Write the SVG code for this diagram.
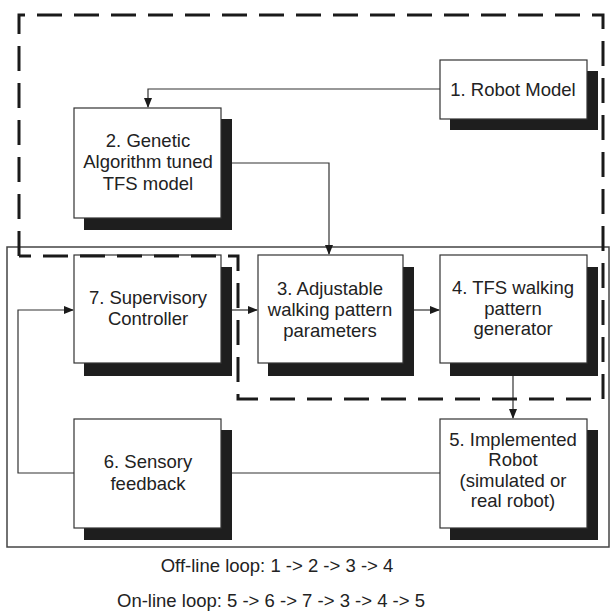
<svg xmlns="http://www.w3.org/2000/svg" width="610" height="612" viewBox="0 0 610 612">
<style>
.box{fill:#fff;stroke:#333;stroke-width:1.2}
.sh{fill:#1e1e1e}
.t{font-family:"Liberation Sans",Arial,sans-serif;font-size:18.5px;fill:#222;text-anchor:middle}
.c{fill:none;stroke:#333;stroke-width:1.2}
.dash{fill:none;stroke:#1a1a1a;stroke-width:3;stroke-dasharray:25 12}
.frame{fill:none;stroke:#444;stroke-width:1.5}
</style>
<defs>
<marker id="ah" markerWidth="10" markerHeight="8" refX="9" refY="4" orient="auto" markerUnits="userSpaceOnUse">
<path d="M0,0 L10,4 L0,8 Z" fill="#1a1a1a"/>
</marker>
</defs>
<rect class="frame" x="7" y="247" width="602" height="300"/>
<g id="connectors">
<polyline class="c" points="440,89 148,89 148,107" marker-end="url(#ah)"/>
<polyline class="c" points="232,163 329,163 329,254" marker-end="url(#ah)"/>
<line class="c" x1="232" y1="310" x2="257" y2="310" marker-end="url(#ah)"/>
<line class="c" x1="414" y1="310" x2="439" y2="310" marker-end="url(#ah)"/>
<line class="c" x1="513" y1="376" x2="513" y2="418" marker-end="url(#ah)"/>
<line class="c" x1="440" y1="473" x2="232" y2="473"/>
<polyline class="c" points="74,473 18,473 18,310 73,310" marker-end="url(#ah)"/>
</g>
<g id="n1">
<rect class="sh" x="450" y="71" width="148" height="59"/>
<rect class="box" x="440" y="60" width="147" height="59"/>
<text class="t" x="513" y="96">1. Robot Model</text>
</g>
<g id="n2">
<rect class="sh" x="84" y="119" width="148" height="111"/>
<rect class="box" x="74" y="108" width="147" height="110"/>
<text class="t" x="148" y="147">2. Genetic</text>
<text class="t" x="148" y="168">Algorithm tuned</text>
<text class="t" x="148" y="190">TFS model</text>
</g>
<g id="n7">
<rect class="sh" x="84" y="267" width="148" height="109"/>
<rect class="box" x="74" y="255" width="147" height="108"/>
<text class="t" x="148" y="304">7. Supervisory</text>
<text class="t" x="148" y="325">Controller</text>
</g>
<g id="n3">
<rect class="sh" x="268" y="267" width="146" height="109"/>
<rect class="box" x="258" y="255" width="145" height="108"/>
<text class="t" x="330" y="295">3. Adjustable</text>
<text class="t" x="330" y="316">walking pattern</text>
<text class="t" x="330" y="337">parameters</text>
</g>
<g id="n4">
<rect class="sh" x="450" y="267" width="148" height="109"/>
<rect class="box" x="440" y="255" width="147" height="108"/>
<text class="t" x="513" y="294">4. TFS walking</text>
<text class="t" x="513" y="315">pattern</text>
<text class="t" x="513" y="335">generator</text>
</g>
<g id="n6">
<rect class="sh" x="84" y="430" width="148" height="110"/>
<rect class="box" x="74" y="419" width="147" height="109"/>
<text class="t" x="148" y="468">6. Sensory</text>
<text class="t" x="148" y="490">feedback</text>
</g>
<g id="n5">
<rect class="sh" x="450" y="430" width="148" height="110"/>
<rect class="box" x="440" y="419" width="147" height="109"/>
<text class="t" x="513" y="446">5. Implemented</text>
<text class="t" x="513" y="466">Robot</text>
<text class="t" x="513" y="487">(simulated or</text>
<text class="t" x="513" y="507">real robot)</text>
</g>
<polyline class="dash" points="19,256 19,15 603,15 603,399 238,399 238,256 19,256"/>
<text class="t" x="277" y="572">Off-line loop: 1 -&gt; 2 -&gt; 3 -&gt; 4</text>
<text class="t" x="271" y="607">On-line loop: 5 -&gt; 6 -&gt; 7 -&gt; 3 -&gt; 4 -&gt; 5</text>
</svg>
